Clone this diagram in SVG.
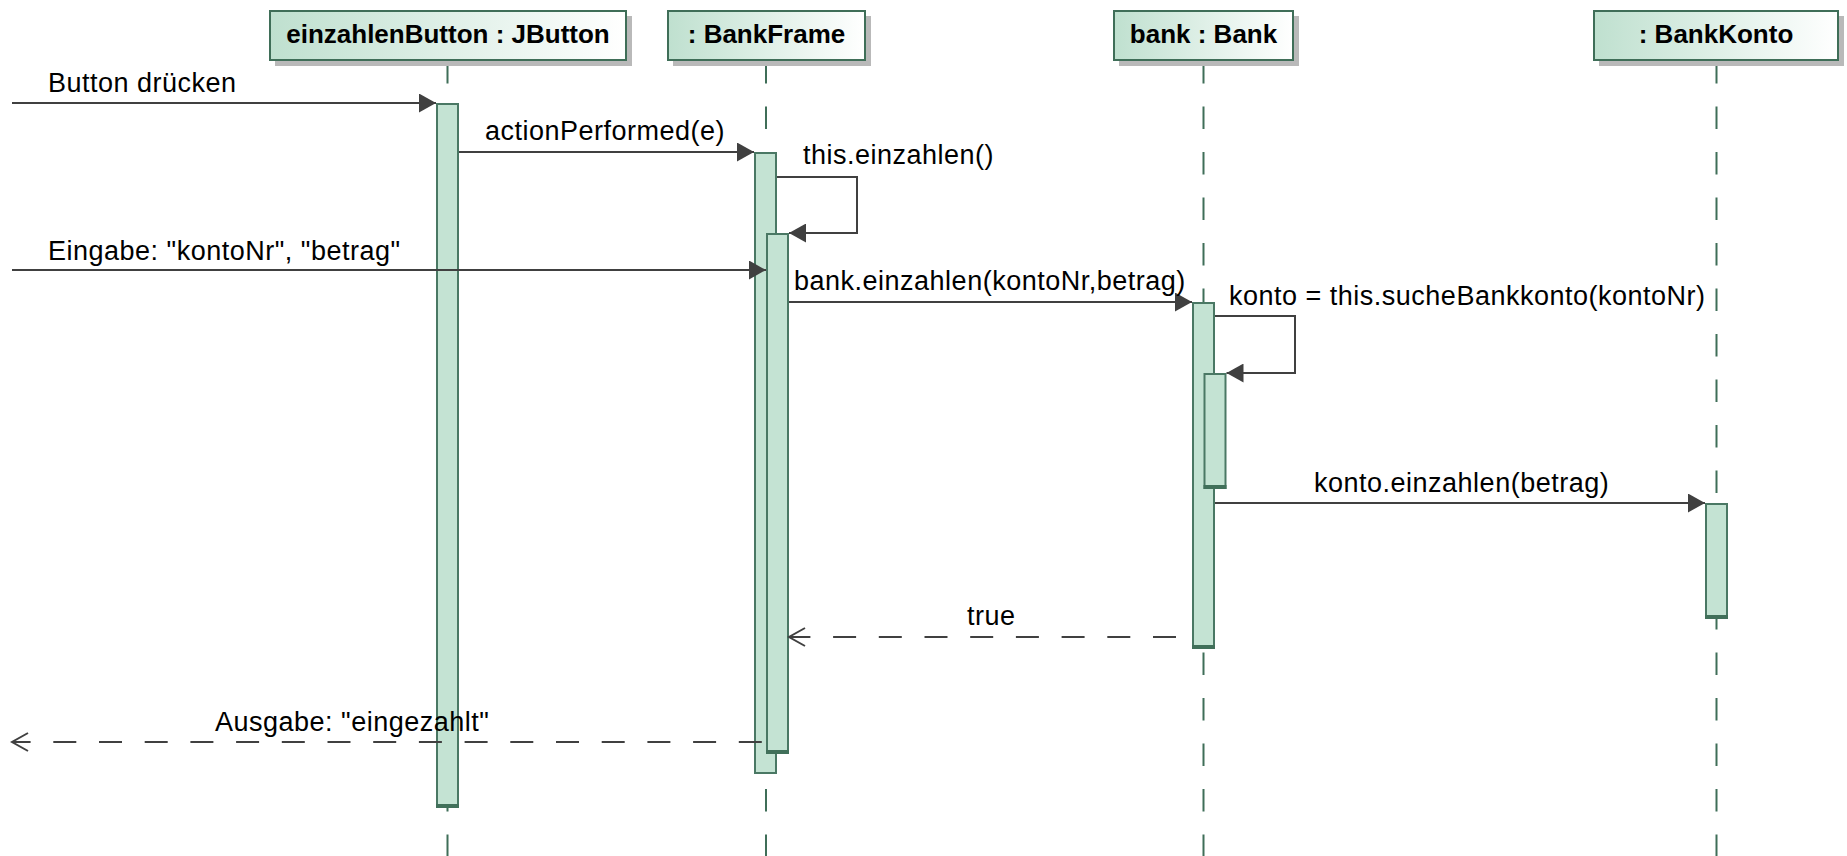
<svg xmlns="http://www.w3.org/2000/svg" width="1847" height="856" viewBox="0 0 1847 856">
<style>
.hdr{stroke:#3f6e58;stroke-width:2;fill:url(#hg)}
.shd{fill:#b9b9b9}
.htxt{font-family:"Liberation Sans",Arial,sans-serif;font-size:26px;font-weight:bold;fill:#000;text-anchor:middle}
.life{stroke:#3f6e58;stroke-width:2;stroke-dasharray:22.5 23;fill:none}
.bar{fill:#c4e3d3;stroke:#4a7864;stroke-width:2}
.barb{fill:#41705a}
.msg{stroke:#404040;stroke-width:2;fill:none}
.call{marker-end:url(#filled)}
.ret{stroke-dasharray:23 22.7;marker-end:url(#open)}
.lbl{font-family:"Liberation Sans",Arial,sans-serif;font-size:27px;letter-spacing:0.5px;fill:#000}
</style>
<defs>
<linearGradient id="hg" x1="0" y1="0" x2="1" y2="0">
<stop offset="0" stop-color="#bfe0cf"/>
<stop offset="1" stop-color="#ffffff"/>
</linearGradient>
<marker id="filled" markerUnits="userSpaceOnUse" viewBox="0 0 17 19" refX="17" refY="9.5" markerWidth="17" markerHeight="19" orient="auto">
<path d="M0,0 L17,9.5 L0,19 z" fill="#404040"/>
</marker>
<marker id="open" markerUnits="userSpaceOnUse" viewBox="-19 -12 21 24" refX="0" refY="0" markerWidth="21" markerHeight="24" orient="auto">
<path d="M-16,-9 L0,0 L-16,9" fill="none" stroke="#404040" stroke-width="2"/>
</marker>
</defs>
<rect width="1847" height="856" fill="#ffffff"/>

<g id="lifelines">
<line class="life" x1="447.5" y1="61" x2="447.5" y2="856"/>
<line class="life" x1="766" y1="61" x2="766" y2="856"/>
<line class="life" x1="1203.5" y1="61" x2="1203.5" y2="856"/>
<line class="life" x1="1716.5" y1="61" x2="1716.5" y2="856"/>
</g>

<g id="einzahlenButton">
<rect class="shd" x="275" y="16" width="357" height="50"/>
<rect class="hdr" x="270" y="11" width="356" height="49"/>
<text class="htxt" x="448" y="43">einzahlenButton : JButton</text>
<rect class="bar" x="437" y="104" width="21" height="703"/>
<rect class="barb" x="436" y="804" width="23" height="4"/>
</g>

<g id="BankFrame">
<rect class="shd" x="673" y="16" width="198" height="50"/>
<rect class="hdr" x="668" y="11" width="197" height="49"/>
<text class="htxt" x="766.5" y="43">: BankFrame</text>
<rect class="bar" x="755" y="153" width="21" height="620"/>
<rect class="bar" x="767" y="234" width="21" height="519"/>
<rect class="barb" x="766" y="750" width="23" height="4"/>
</g>

<g id="bank">
<rect class="shd" x="1119" y="16" width="180" height="50"/>
<rect class="hdr" x="1114" y="11" width="179" height="49"/>
<text class="htxt" x="1203.5" y="43">bank : Bank</text>
<rect class="bar" x="1193" y="303" width="21" height="345"/>
<rect class="barb" x="1192" y="645" width="23" height="4"/>
<rect class="bar" x="1204.5" y="374" width="21" height="114"/>
<rect class="barb" x="1203.5" y="485" width="23" height="4"/>
</g>

<g id="BankKonto">
<rect class="shd" x="1599" y="16" width="245" height="50"/>
<rect class="hdr" x="1594" y="11" width="244" height="49"/>
<text class="htxt" x="1716" y="43">: BankKonto</text>
<rect class="bar" x="1706" y="504" width="21" height="114"/>
<rect class="barb" x="1705" y="615" width="23" height="4"/>
</g>

<g id="connectors">
<line class="msg call" x1="12" y1="103" x2="436" y2="103"/>
<line class="msg call" x1="459" y1="152" x2="754" y2="152"/>
<polyline class="msg call" points="777,177 857,177 857,233 789,233"/>
<line class="msg call" x1="12" y1="270" x2="766" y2="270"/>
<line class="msg call" x1="789" y1="302" x2="1192" y2="302"/>
<polyline class="msg call" points="1215,316 1295,316 1295,373 1226.5,373"/>
<line class="msg call" x1="1215" y1="503" x2="1705" y2="503"/>
<line class="msg ret" x1="1192" y1="637" x2="789" y2="637" stroke-dashoffset="29.7"/>
<line class="msg ret" x1="765" y1="742" x2="12" y2="742" stroke-dashoffset="42.5"/>
</g>

<g id="labels">
<text class="lbl" x="48" y="92">Button drücken</text>
<text class="lbl" x="485" y="140">actionPerformed(e)</text>
<text class="lbl" x="803" y="164">this.einzahlen()</text>
<text class="lbl" x="48" y="260">Eingabe: "kontoNr", "betrag"</text>
<text class="lbl" x="794" y="290">bank.einzahlen(kontoNr,betrag)</text>
<text class="lbl" x="1229" y="305">konto = this.sucheBankkonto(kontoNr)</text>
<text class="lbl" x="1314" y="492">konto.einzahlen(betrag)</text>
<text class="lbl" x="967" y="625">true</text>
<text class="lbl" x="215" y="731">Ausgabe: "eingezahlt"</text>
</g>
</svg>
